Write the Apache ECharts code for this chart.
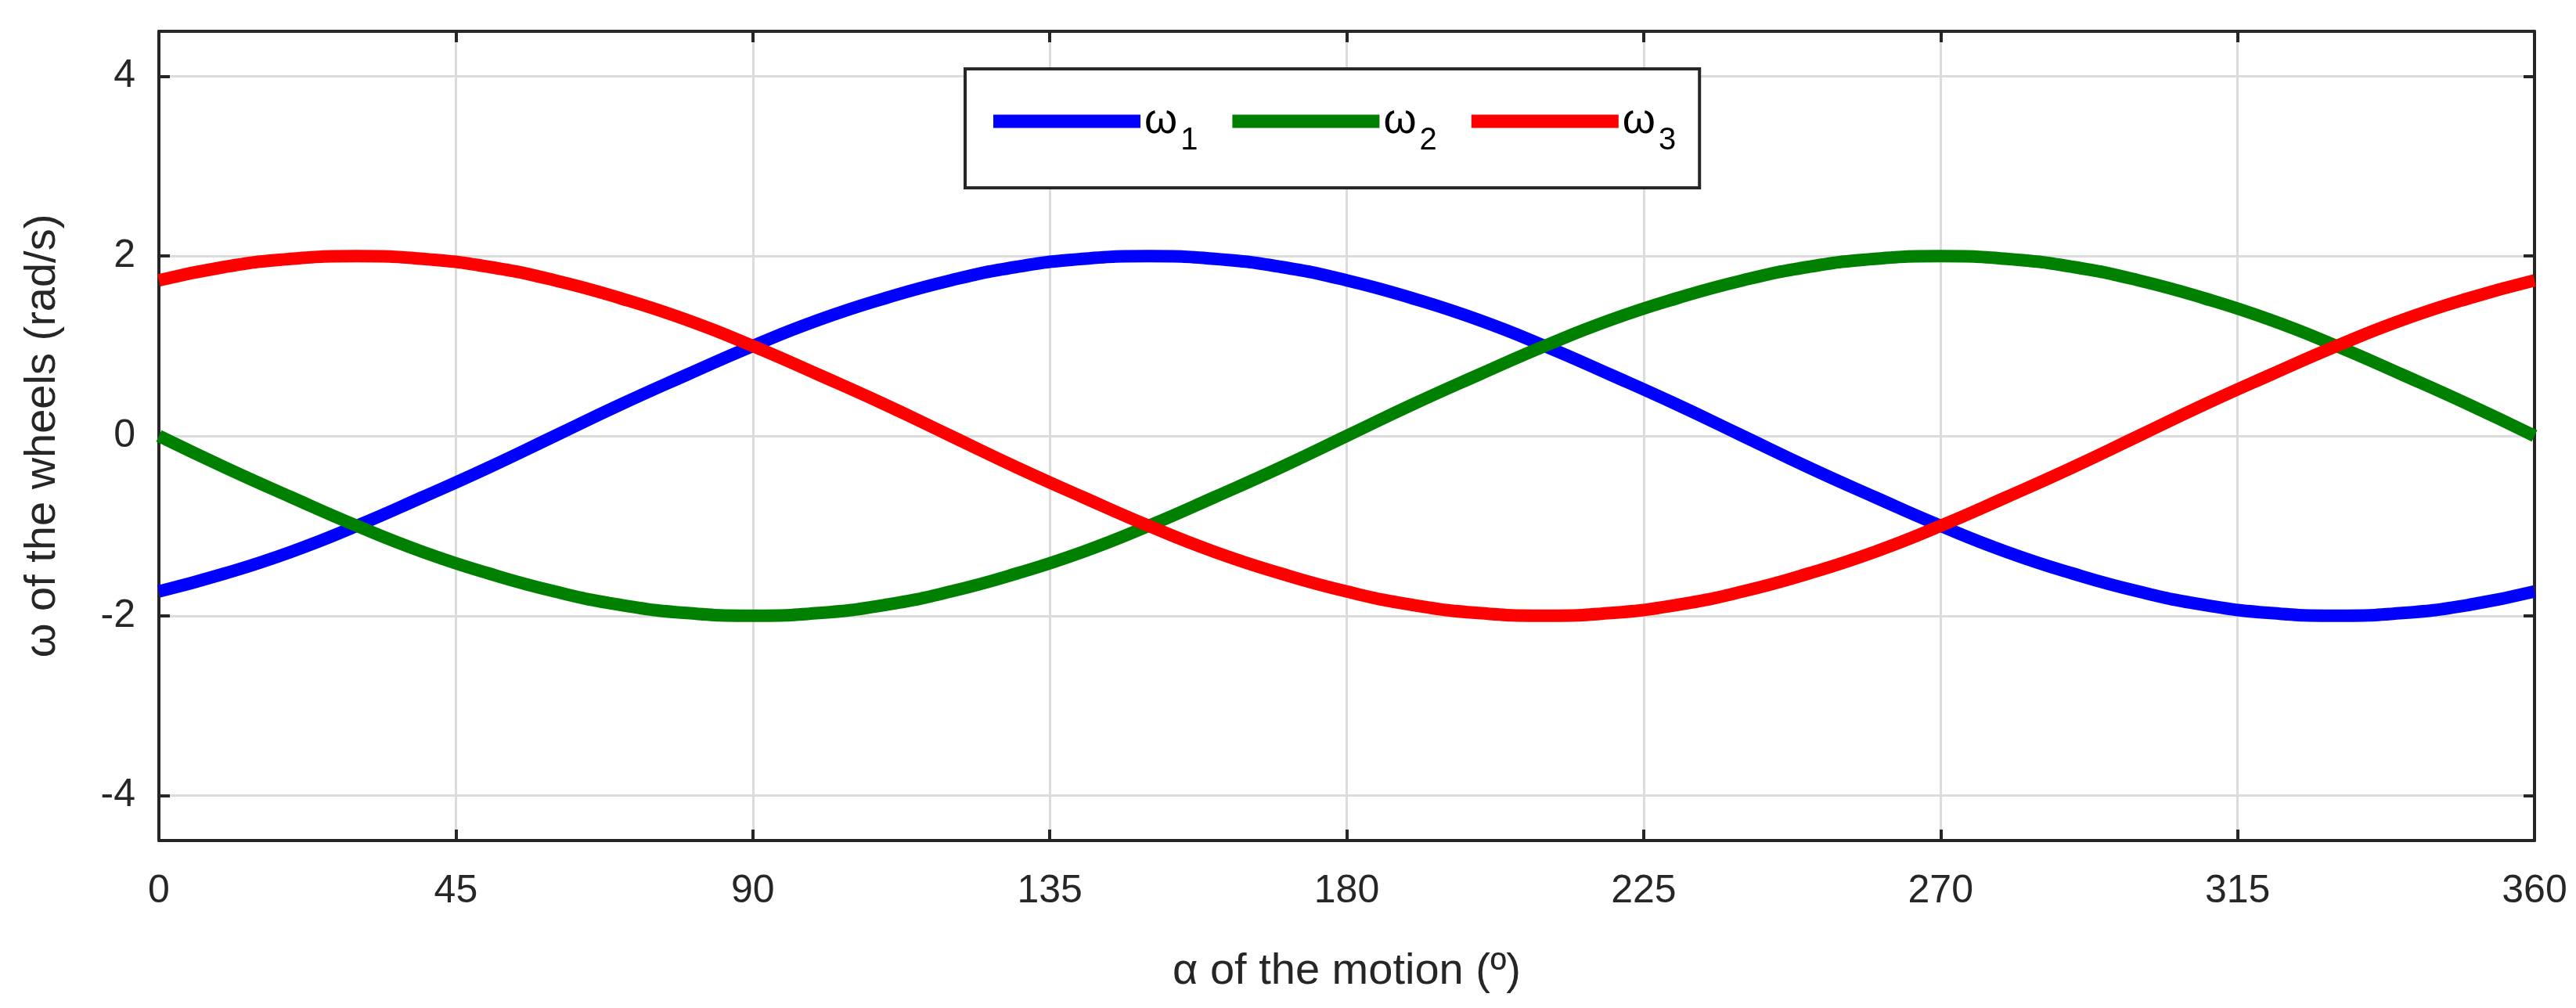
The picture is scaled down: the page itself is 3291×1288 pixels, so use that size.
<!DOCTYPE html>
<html>
<head>
<meta charset="utf-8">
<script src="https://cdn.jsdelivr.net/npm/echarts@6/dist/echarts.min.js"></script>
<style>html,body{margin:0;padding:0;background:#fff}#main{width:3291px;height:1288px}</style>
</head>
<body>
<div id="main"></div>
<script>
// 角度 (每10度一个点)
const alpha = [0,10,20,30,40,50,60,70,80,90,100,110,120,130,140,150,160,170,180,190,200,210,220,230,240,250,260,270,280,290,300,310,320,330,340,350,360]
// 三个轮子的角速度
const w1 = [-1.73,-1.53,-1.29,-1,-0.68,-0.35,0,0.35,0.68,1,1.29,1.53,1.73,1.88,1.97,2,1.97,1.88,1.73,1.53,1.29,1,0.68,0.35,0,-0.35,-0.68,-1,-1.29,-1.53,-1.73,-1.88,-1.97,-2,-1.97,-1.88,-1.73]
const w2 = [0,-0.35,-0.68,-1,-1.29,-1.53,-1.73,-1.88,-1.97,-2,-1.97,-1.88,-1.73,-1.53,-1.29,-1,-0.68,-0.35,0,0.35,0.68,1,1.29,1.53,1.73,1.88,1.97,2,1.97,1.88,1.73,1.53,1.29,1,0.68,0.35,0]
const w3 = [1.73,1.88,1.97,2,1.97,1.88,1.73,1.53,1.29,1,0.68,0.35,0,-0.35,-0.68,-1,-1.29,-1.53,-1.73,-1.88,-1.97,-2,-1.97,-1.88,-1.73,-1.53,-1.29,-1,-0.68,-0.35,0,0.35,0.68,1,1.29,1.53,1.73]
const yTicks = [-4,-2,0,2,4]

const font = 'Liberation Sans, Arial, sans-serif'
const toPairs = (ys) => alpha.map((a, i) => [a, ys[i]])

const axisLine = {show: true, onZero: false, lineStyle: {color: '#262626', width: 4}}
const tick = {show: true, inside: true, length: 14, lineStyle: {color: '#262626', width: 4}}

let myChart = echarts.init(document.getElementById('main'))
let option = {
  animation: false,
  grid: {left: 203, right: 53, top: 40, bottom: 214},
  legend: {
    left: 1233, top: 88,
    padding: [40, 30, 40, 36],
    borderColor: '#262626', borderWidth: 4, backgroundColor: '#fff',
    itemWidth: 188, itemHeight: 17, itemGap: 44,
    icon: 'rect',
    formatter: (name) => '{w|ω}{s|' + name.slice(1) + '}',
    textStyle: {
      color: '#000', fontFamily: font,
      rich: {
        w: {fontSize: 54, fontFamily: font, color: '#000'},
        s: {fontSize: 40, fontFamily: font, color: '#000', padding: [50, 0, 0, 4]}
      }
    },
    data: ['w1', 'w2', 'w3']
  },
  xAxis: [
    {
      type: 'value', min: 0, max: 360, interval: 45, position: 'bottom',
      name: 'α of the motion (º)', nameLocation: 'middle', nameGap: 140,
      nameTextStyle: {fontSize: 56, fontFamily: font, color: '#262626'},
      axisLine: axisLine, axisTick: tick,
      axisLabel: {fontSize: 50, fontFamily: font, color: '#262626', margin: 40},
      splitLine: {show: true, lineStyle: {color: '#dcdcdc', width: 3}}
    },
    {
      type: 'value', min: 0, max: 360, interval: 45, position: 'top',
      axisLine: axisLine, axisTick: tick,
      axisLabel: {show: false}, splitLine: {show: false}
    }
  ],
  yAxis: [
    {
      type: 'value', min: -4.5, max: 4.5, position: 'left',
      name: 'ω of the wheels (rad/s)', nameLocation: 'middle', nameGap: 120,
      nameTextStyle: {fontSize: 56, fontFamily: font, color: '#262626'},
      axisLine: axisLine,
      axisLabel: {fontSize: 50, fontFamily: font, color: '#262626', margin: 30, customValues: yTicks},
      axisTick: Object.assign({customValues: yTicks}, tick),
      splitLine: {show: true, lineStyle: {color: '#dcdcdc', width: 3}}
    },
    {
      type: 'value', min: -4.5, max: 4.5, position: 'right',
      axisLine: axisLine,
      axisLabel: {show: false, customValues: yTicks}, splitLine: {show: false},
      axisTick: Object.assign({customValues: yTicks}, tick)
    }
  ],
  series: [
    {name: 'w1', type: 'line', data: toPairs(w1), smooth: true, showSymbol: false, color: '#0000ff', lineStyle: {width: 16}},
    {name: 'w2', type: 'line', data: toPairs(w2), smooth: true, showSymbol: false, color: '#008000', lineStyle: {width: 16}},
    {name: 'w3', type: 'line', data: toPairs(w3), smooth: true, showSymbol: false, color: '#ff0000', lineStyle: {width: 16}}
  ]
}
myChart.setOption(option)
</script>
</body>
</html>
